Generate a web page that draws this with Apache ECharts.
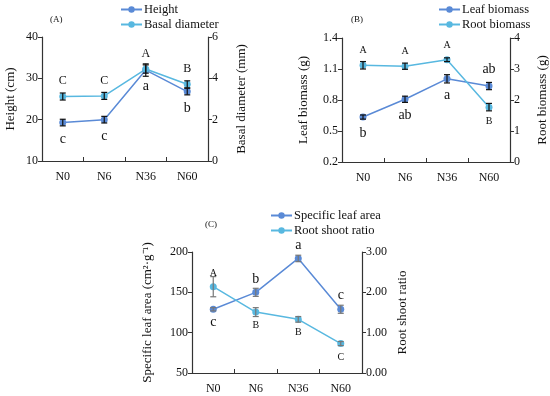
<!DOCTYPE html>
<html><head><meta charset="utf-8">
<script src="https://cdn.jsdelivr.net/npm/echarts@6/dist/echarts.min.js"></script>
<style>html,body{margin:0;padding:0;background:#fff}#c{width:550px;height:396px}</style>
</head><body><div id="c"></div>
<script>
const categories = ['N0','N6','N36','N60'];
// Panel A
const heightVals = [19.3, 20.0, 32.0, 26.8];
const heightErr = [0.8, 0.8, 1.5, 0.8];
const heightLetters = ['c','c','a','b'];
const basalVals = [3.12, 3.15, 4.45, 3.71];
const basalErr = [0.17, 0.17, 0.2, 0.17];
const basalLetters = ['C','C','A','B'];
// Panel B
const leafVals = [0.635, 0.807, 1.005, 0.935];
const leafErr = [0.02, 0.03, 0.04, 0.035];
const leafLetters = ['b','ab','a','ab'];
const rootVals = [3.12, 3.09, 3.30, 1.77];
const rootErr = [0.12, 0.1, 0.06, 0.12];
const rootLetters = ['A','A','A','B'];
// Panel C
const slaVals = [129, 150, 192, 129];
const slaErr = [2, 5, 4, 5];
const slaLetters = ['c','b','a','c'];
const rsrVals = [2.14, 1.51, 1.33, 0.73];
const rsrErr = [0.25, 0.11, 0.07, 0.05];
const rsrLetters = ['A','B','B','C'];

const DARK = '#5a8ad6', LIGHT = '#58b8e0';
const FONT = 'Liberation Serif';
const chart = echarts.init(document.getElementById('c'), null, {renderer:'canvas'});

function mkData(vals, letters, positions){
  return vals.map((v,i)=>({value:v, label:{show:true, formatter:letters[i], position:positions[i]}}));
}
function lineSeries(name, color, vals, letters, positions, xi, yi, fs, dist){
  return {type:'line', name, xAxisIndex:xi, yAxisIndex:yi, data:mkData(vals,letters,positions),
    symbol:'circle', symbolSize:7, color, lineStyle:{width:1.5,color}, itemStyle:{color},
    label:{fontFamily:FONT, fontSize:fs, color:'#111', distance:dist}, z:3};
}
function errSeries(vals, errs, xi, yi, color){
  return {type:'custom', xAxisIndex:xi, yAxisIndex:yi, z:4, silent:true,
    data: vals.map((v,i)=>[i, v-errs[i], v+errs[i]]),
    renderItem(params, api){
      const lo = api.coord([api.value(0), api.value(1)]);
      const hi = api.coord([api.value(0), api.value(2)]);
      const w = 3;
      const st = {stroke:color, lineWidth:1.2};
      return {type:'group', children:[
        {type:'line', shape:{x1:lo[0],y1:lo[1],x2:hi[0],y2:hi[1]}, style:st},
        {type:'line', shape:{x1:lo[0]-w,y1:lo[1],x2:lo[0]+w,y2:lo[1]}, style:st},
        {type:'line', shape:{x1:hi[0]-w,y1:hi[1],x2:hi[0]+w,y2:hi[1]}, style:st}
      ]};
    }};
}
const axLine = {show:true, lineStyle:{color:'#333', width:1.2}};
const axLabel = {fontFamily:FONT, fontSize:12, color:'#111'};
function xAx(gi){
  return {type:'category', gridIndex:gi, data:categories, boundaryGap:true,
    axisLine:axLine, axisTick:{show:true, inside:true, length:4, lineStyle:{color:'#333'}},
    axisLabel:Object.assign({margin:10}, axLabel)};
}
function yAx(gi, pos, min, max, interval, name, gap, fmt){
  return {type:'value', gridIndex:gi, position:pos, min, max, interval,
    name, nameLocation:'middle', nameGap:gap, nameRotate:90,
    nameTextStyle:{fontFamily:FONT, fontSize:13, color:'#111'},
    axisLine:axLine, axisTick:{show:true, length:4, lineStyle:{color:'#333'}},
    axisLabel:Object.assign({margin:4, formatter:fmt}, axLabel), splitLine:{show:false}};
}
function legend(left, top, names){
  return {left, top, orient:'vertical', padding:0, itemGap:2, itemWidth:21, itemHeight:8,
    textStyle:{fontFamily:FONT, fontSize:12.5, color:'#111', padding:[0,0,0,-3]}, data:names};
}
const option = {
  animation:false,
  grid:[
    {left:42, top:37, width:166, height:124},
    {left:342, top:38, width:169, height:124},
    {left:192, top:252, width:170, height:121}
  ],
  xAxis:[xAx(0), xAx(1), xAx(2)],
  yAxis:[
    yAx(0,'left',10,40,10,'Height (cm)',25),
    yAx(0,'right',0,6,2,'Basal diameter (mm)',27),
    yAx(1,'left',0.2,1.4,0.3,'Leaf biomass (g)',32, v=>v.toFixed(1)),
    yAx(1,'right',0,4,1,'Root biomass (g)',26),
    yAx(2,'left',50,200,50,'Specific leaf area (cm²·g⁻¹)',38),
    yAx(2,'right',0,3,1,'Root shoot ratio',34, v=>v.toFixed(2))
  ],
  legend:[
    legend(120, 3, ['Height','Basal diameter']),
    legend(438, 3, ['Leaf biomass','Root biomass']),
    legend(270, 209, ['Specific leaf area','Root shoot ratio'])
  ],
  graphic:[
    {type:'text', left:50, top:15, style:{text:'(A)', font:'9px '+FONT, fill:'#111'}},
    {type:'text', left:351, top:15, style:{text:'(B)', font:'9px '+FONT, fill:'#111'}},
    {type:'text', left:205, top:220, style:{text:'(C)', font:'9px '+FONT, fill:'#111'}}
  ],
  series:[
    lineSeries('Height', DARK, heightVals, heightLetters, ['bottom','bottom','bottom','bottom'], 0, 0, 14, 6),
    lineSeries('Basal diameter', LIGHT, basalVals, basalLetters, ['top','top','top','top'], 0, 1, 12, 6),
    errSeries(heightVals, heightErr, 0, 0, '#111'),
    errSeries(basalVals, basalErr, 0, 1, '#111'),
    lineSeries('Leaf biomass', DARK, leafVals, leafLetters, ['bottom','bottom','bottom','top'], 1, 2, 14, 6),
    lineSeries('Root biomass', LIGHT, rootVals, rootLetters, ['top','top','top','bottom'], 1, 3, 10, 6),
    errSeries(leafVals, leafErr, 1, 2, '#111'),
    errSeries(rootVals, rootErr, 1, 3, '#111'),
    lineSeries('Specific leaf area', DARK, slaVals, slaLetters, ['bottom','top','top','top'], 2, 4, 14, 3),
    lineSeries('Root shoot ratio', LIGHT, rsrVals, rsrLetters, ['top','bottom','bottom','bottom'], 2, 5, 10, 5),
    errSeries(slaVals, slaErr, 2, 4, '#777'),
    errSeries(rsrVals, rsrErr, 2, 5, '#777')
  ]
};
chart.setOption(option);
</script></body></html>
